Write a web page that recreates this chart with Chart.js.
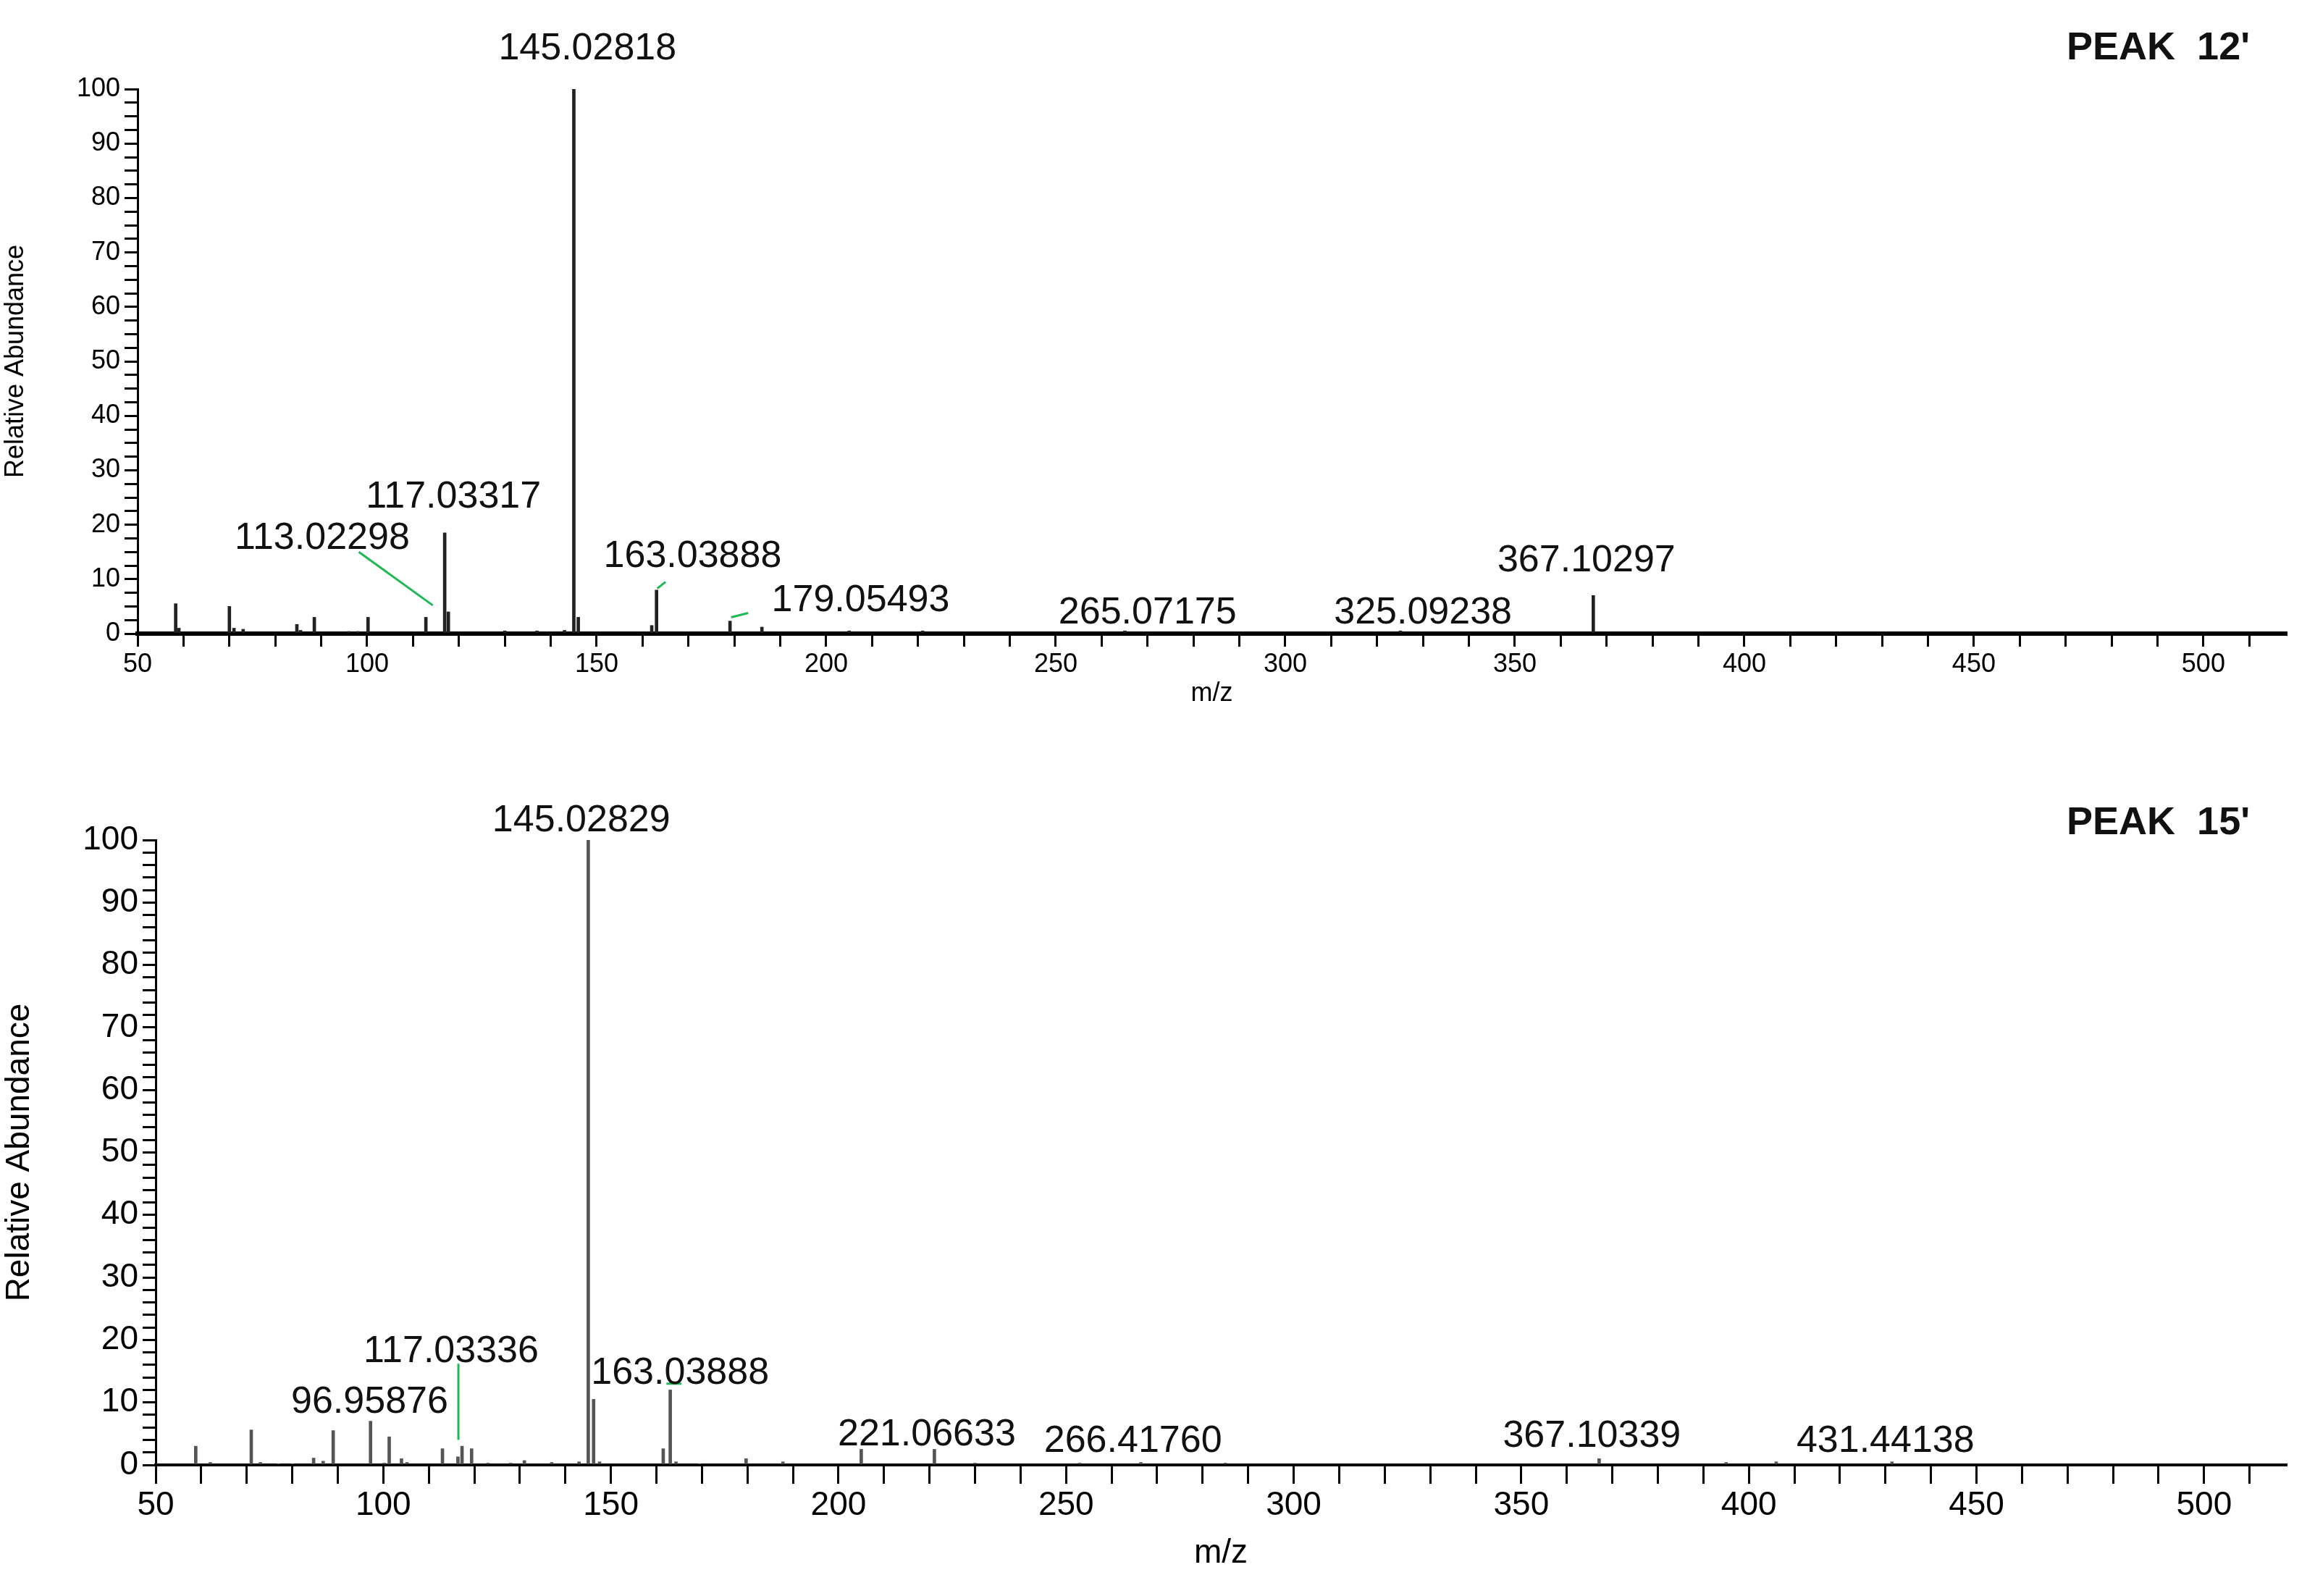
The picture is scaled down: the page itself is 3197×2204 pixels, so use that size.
<!DOCTYPE html>
<html><head><meta charset="utf-8">
<script src="https://cdn.jsdelivr.net/npm/chart.js@4"></script>
<style>
html,body{margin:0;padding:0;background:#fff;width:3197px;height:2204px;overflow:hidden;font-family:Arial,"Liberation Sans",sans-serif}
.box{position:absolute;left:0;width:3197px}
</style></head><body>
<div class="box" style="top:0;height:1000px"><canvas id="c1"></canvas></div>
<div class="box" style="top:1060px;height:1144px"><canvas id="c2"></canvas></div>
<script>
// PEAK 12'
const mz12 = [58.3,59,70,71,73,84.7,85.5,88.5,96,98,100.2,112.8,116.9,117.7,130,137,143,145.03,146,162,163.04,179.05,186,205,221,265.07,325.09,367.1];
const ab12 = [5.5,1,5,1,0.8,1.7,0.6,3,0.4,0.4,3,3,18.5,4,0.5,0.5,0.6,100,3,1.5,8,2.3,1.2,0.5,0.5,0.5,0.5,7];
const labels12 = ["145.02818","117.03317","113.02298","163.03888","179.05493","265.07175","325.09238","367.10297"];
const labelPos12 = [[148,105.4],[118.8,23.2],[90.2,15.5],[170.9,12.3],[207.5,4.1],[270,1.9],[330,1.9],[365.6,11.4]];
const leaders12 = [[98.2,15,114.3,5.2],[163.2,8.3,165,9.5],[179.3,3,183,3.8]];
// PEAK 15'
const mz15 = [58.8,62,71,73,77,80,84.7,86.8,89,97.2,100.2,101.3,104,105.2,113,116.4,117.3,119.4,123,128,131,137,143,145.03,146.2,147.5,161.5,163.04,164.3,169.5,179.7,187.8,205,221.07,230,253,266.42,285,367.1,395,406,431.44];
const ab15 = [3,0.4,5.6,0.4,0.2,0.2,1.1,0.6,5.5,7,0.3,4.5,1,0.4,2.6,1.3,3,2.6,0.3,0.3,0.7,0.4,0.5,100,10.5,0.5,2.6,12,0.5,0.2,1,0.5,2.5,2.5,0.3,0.3,0.4,0.3,1,0.4,0.5,0.5];
const labels15 = ["145.02829","117.03336","96.95876","163.03888","221.06633","266.41760","367.10339","431.44138"];
const labelPos15 = [[143.5,101.4],[114.9,16.4],[97,8.3],[165.2,13],[219.4,3.1],[264.7,2.1],[365.5,2.9],[430,2.1]];
const leaders15 = [[116.5,16.2,116.5,4],[162.2,13,165.5,13]];

const leaderPlugin = {
  id:'peakText',
  afterDatasetsDraw(chart){
    const o = chart.options.plugins.peakText; const x = chart.scales.x, y = chart.scales.y, c = chart.ctx;
    c.save();
    c.strokeStyle = '#1db954'; c.lineWidth = 3;
    o.leaders.forEach(l => { c.beginPath(); c.moveTo(x.getPixelForValue(l[0]), y.getPixelForValue(l[1])); c.lineTo(x.getPixelForValue(l[2]), y.getPixelForValue(l[3])); c.stroke(); });
    c.fillStyle = '#111'; c.font = o.font; c.textAlign = 'center'; c.textBaseline = 'alphabetic';
    o.texts.forEach((t,i) => c.fillText(t, x.getPixelForValue(o.pos[i][0]), y.getPixelForValue(o.pos[i][1])));
    c.font = 'bold 54px Arial, "Liberation Sans"'; c.textAlign = 'right'; c.textBaseline='top';
    c.fillText(o.title, chart.chartArea.right - 50, o.titleY);
    c.restore();
  }
};

function make(id, mz, ab, texts, pos, leaders, cfg){
  return new Chart(document.getElementById(id), {
    type:'bar',
    data:{datasets:[{data: mz.map((m,i)=>({x:m,y:ab[i]})), backgroundColor: cfg.bar, barThickness: 4, grouped:false}]},
    options:{
      responsive:true, maintainAspectRatio:false, animation:false,
      layout:{padding:{top:cfg.top, right:40, left:0, bottom:cfg.pb}},
      plugins:{legend:{display:false}, tooltip:{enabled:false},
        peakText:{texts, pos, leaders, font: cfg.lfont, title: cfg.title, titleY: cfg.titleY}},
      scales:{
        x:{type:'linear', min:50, max:518, offset:false, afterFit(s){s.height=cfg.xh;},
          border:{color:'#000', width:cfg.bw},
          grid:{drawOnChartArea:false, offset:false, color:'#000', tickLength:cfg.tl, lineWidth:3},
          afterBuildTicks(s){ const t=[]; for(let v=50; v<=518; v+=10) t.push({value:v}); s.ticks=t; },
          ticks:{autoSkip:false, maxRotation:0, color:'#000', font:{size:cfg.tf, family:'Arial'}, callback:v=> v%50===0 ? v : ''},
          title:{display:true, text:'m/z', color:'#000', font:{size:cfg.af, family:'Arial'}, padding:0}},
        y:{min:0, max:100, afterFit(s){s.width=cfg.left;},
          border:{color:'#000', width:3},
          grid:{drawOnChartArea:false, color:'#000', tickLength:cfg.ytl, lineWidth:3},
          afterBuildTicks(s){ const t=[]; for(let v=0; v<=100; v+=cfg.ystep) t.push({value:v}); s.ticks=t; },
          ticks:{autoSkip:false, color:'#000', font:{size:cfg.tf, family:'Arial'}, padding:6, callback:v=> v%10===0 ? v : ''},
          title:{display:true, text:'Relative Abundance', color:'#000', font:{size:cfg.af, family:'Arial'}, padding:0}}
      }
    },
    plugins:[leaderPlugin]
  });
}
make('c1', mz12, ab12, labels12, labelPos12, leaders12, {top:123, xh:105, pb:20, left:190, bar:'#222', lfont:'52px Arial, "Liberation Sans"', title:"PEAK  12'", titleY:40, tf:36, af:36, tl:18, ytl:18, bw:6, ystep:2.5});
make('c2', mz15, ab15, labels15, labelPos15, leaders15, {top:100, xh:150, pb:31, left:215, bar:'#555', lfont:'52px Arial, "Liberation Sans"', title:"PEAK  15'", titleY:50, tf:46, af:46, tl:26, ytl:18, bw:4, ystep:2});
</script></body></html>
